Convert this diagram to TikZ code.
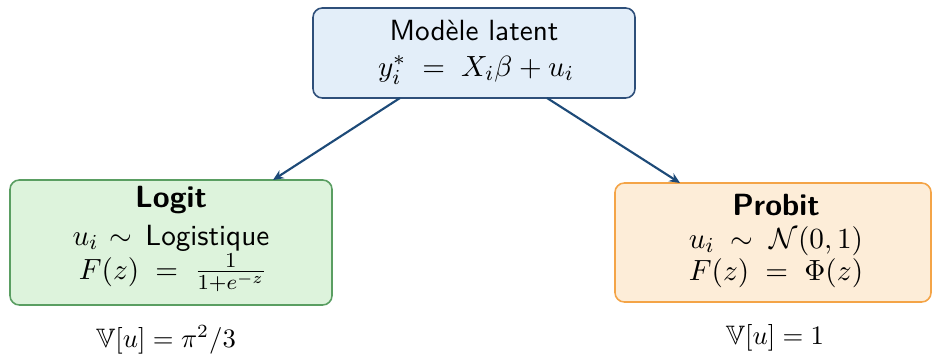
\documentclass[tikz,border=0pt]{standalone}
\usepackage{amsmath,amssymb}
\usetikzlibrary{arrows.meta}
\definecolor{bluefill}{HTML}{E3EEF9}
\definecolor{blueline}{HTML}{2E4F7A}
\definecolor{greenfill}{HTML}{DDF3DC}
\definecolor{greenline}{HTML}{5A9E62}
\definecolor{orangefill}{HTML}{FDEDD8}
\definecolor{orangeline}{HTML}{F4A447}
\definecolor{arrowcol}{HTML}{1D4A78}
\newcommand{\gp}{\mkern5mu}
\newcommand{\sgp}{\mkern2mu}
\begin{document}
\begin{tikzpicture}[x=0.375pt,y=-0.375pt,
  box/.style={rounded corners=3.5pt,line width=0.6pt},
  txt/.style={font=\fontsize{10.95}{13.6}\selectfont\sffamily,align=center,inner sep=0pt},
  ttl/.style={font=\fontsize{11.5}{14}\selectfont\sffamily\bfseries,inner sep=0pt},
  lbl/.style={font=\fontsize{10}{12}\selectfont,inner sep=0pt},
  conn/.style={draw=arrowcol,line width=0.8pt,-{Stealth[length=4pt,width=3.5pt]}}]
\useasboundingbox (0,0) rectangle (933,356);
\draw[box,fill=bluefill,draw=blueline] (313,8) rectangle (635,98);
\draw[box,fill=greenfill,draw=greenline] (10,180) rectangle (332,305);
\draw[box,fill=orangefill,draw=orangeline] (615,183) rectangle (931,302);
\node[txt] (t1) at (474,31) {Modèle latent};
\node[txt] (t2) at (476,70) {$y_i^{*}\gp=\gp X_i\beta+u_i$};
\node[ttl] (l1) at (171,200) {Logit};
\node[txt] (l2) at (171,238) {$u_i\sgp\sim\sgp$ Logistique};
\node[txt] (l3) at (173,273) {$F(z)\gp=\gp\frac{1}{1+e^{-z}}$};
\node[ttl] (r1) at (776,205) {Probit};
\node[txt] (r2) at (776,241) {$u_i\gp\sim\gp\mathcal{N}(0,1)$};
\node[txt] (r3) at (776,273) {$F(z)\gp=\gp\Phi(z)$};
\node[lbl] (lv) at (166,340) {$\mathbb{V}[u]=\pi^2/3$};
\node[lbl] (rv) at (775,338) {$\mathbb{V}[u]=1$};
\coordinate (a1) at (400,98);
\coordinate (a2) at (273,180);
\coordinate (b1) at (547,98);
\coordinate (b2) at (680,183);
\draw[conn] (a1) -- (a2);
\draw[conn] (b1) -- (b2);
\end{tikzpicture}
\end{document}
